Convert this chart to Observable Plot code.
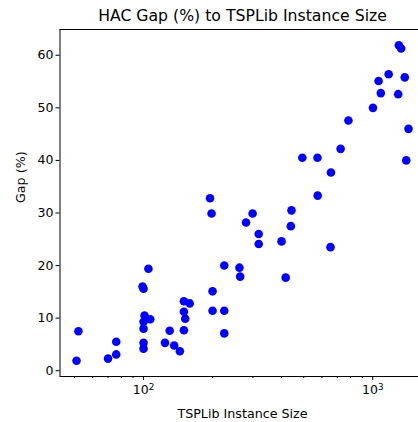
<!DOCTYPE html>
<html><head><meta charset="utf-8">
<script src="https://cdn.jsdelivr.net/npm/d3@7"></script>
<script src="https://cdn.jsdelivr.net/npm/@observablehq/plot@0.6"></script>
<style>body{margin:0;background:#fff;overflow:hidden}</style>
</head><body><div id="chart"></div>
<script>
const titleText = "HAC Gap (%) to TSPLib Instance Size";
const xLabel = "TSPLib Instance Size";
const yLabel = "Gap (%)";

const sizes = [51, 52, 70, 76, 76, 100, 100, 100, 100, 101, 107, 99, 100, 105,
  124, 130, 136, 144, 150, 159, 150, 152, 150, 195, 198, 200, 200, 225, 225, 225,
  262, 264, 280, 299, 318, 318, 400, 417, 439, 442, 575, 654, 493, 574, 657, 724,
  783, 1002, 1060, 1084, 1173, 1291, 1300, 1330, 1379, 1400, 1432];
const gaps = [1.9, 7.5, 2.3, 3.1, 5.5, 4.2, 5.3, 8.0, 9.3, 10.5, 9.8, 16.0, 15.6, 19.4,
  5.3, 7.6, 4.8, 3.7, 13.2, 12.8, 11.2, 9.9, 7.7, 32.8, 29.9, 15.1, 11.4, 20.0, 11.4, 7.1,
  19.6, 17.9, 28.2, 29.9, 26.0, 24.1, 24.6, 17.7, 27.5, 30.5, 33.3, 23.5, 40.5, 40.5, 37.7, 42.2,
  47.6, 50.0, 55.1, 52.8, 56.4, 52.6, 61.9, 61.3, 55.8, 40.0, 46.0];

const xDomain = [43.2, 1690];
const yDomain = [-1.1, 64.9];
const xMajorTicks = [100, 1000];
const xMajorBase = "10";
const xMajorExponents = ["2", "3"];
const xMinorTicks = [50, 60, 70, 80, 90, 200, 300, 400, 500, 600, 700, 800, 900];
const yTicks = [0, 10, 20, 30, 40, 50, 60];

const data = sizes.map((n, i) => ({n, gap: gaps[i]}));

const chart = Plot.plot({
  width: 418, height: 422,
  marginLeft: 59.5, marginRight: 0, marginTop: 29, marginBottom: 46,
  x: {type: "log", domain: xDomain, range: [59.5, 424.5]},
  y: {domain: yDomain, range: [376, 29]},
  style: {fontFamily: "DejaVu Sans", fontSize: "12.5px", color: "#000", background: "#fff"},
  marks: [
    Plot.dot(data, {x: "n", y: "gap", r: 4.3, fill: "#0000ff", stroke: "none"}),
    Plot.ruleY([yDomain[1]], {stroke: "#000", strokeWidth: 1}),
    Plot.ruleY([yDomain[0]], {stroke: "#000", strokeWidth: 1}),
    Plot.ruleX([xDomain[0]], {stroke: "#000", strokeWidth: 1}),
    Plot.axisY({ticks: yTicks, tickSize: 4, tickPadding: 2.5, label: null, tickFormat: d => String(d)}),
    Plot.axisX({ticks: xMajorTicks, tickSize: 4, tickPadding: 5, label: null,
      tickFormat: d => "§" + xMajorExponents[xMajorTicks.indexOf(d)]}),
    Plot.axisX({ticks: xMinorTicks, tickSize: 2, label: null, tickFormat: () => ""}),
    Plot.text([titleText], {frameAnchor: "top", dx: 3.25, dy: -14, lineAnchor: "middle", fontSize: 15.7}),
    Plot.text([xLabel], {frameAnchor: "bottom", dx: 3.25, dy: 37, lineAnchor: "middle", fontSize: 12.7}),
    Plot.text([yLabel], {frameAnchor: "left", dx: -39.5, dy: 0, rotate: -90, lineAnchor: "middle", fontSize: 12.7})
  ]
});
// render exponent tick labels as base with raised superscript
chart.querySelectorAll("text").forEach(t => {
  const s = t.textContent;
  if (s.startsWith("§")) {
    const exp = s.slice(1);
    t.textContent = "";
    const b = document.createElementNS("http://www.w3.org/2000/svg", "tspan");
    b.textContent = xMajorBase;
    const e = document.createElementNS("http://www.w3.org/2000/svg", "tspan");
    e.textContent = exp;
    e.setAttribute("font-size", "8.8px");
    e.setAttribute("dy", "-0.45em");
    t.appendChild(b); t.appendChild(e);
  }
});
document.getElementById("chart").appendChild(chart);
</script>
</body></html>
